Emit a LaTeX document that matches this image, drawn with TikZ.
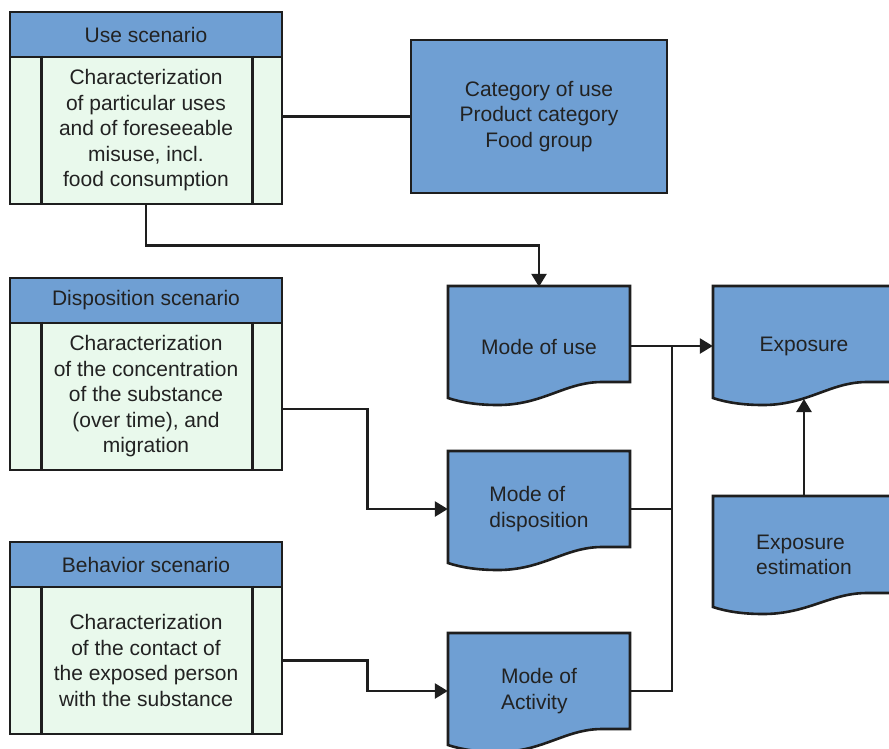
\documentclass[tikz,border=0pt]{standalone}
\usepackage{fontspec}
\setmainfont{Liberation Sans}
\usetikzlibrary{arrows.meta}
\definecolor{boxblue}{HTML}{6F9FD3}
\definecolor{boxgreen}{HTML}{E9F9EC}
\definecolor{ink}{HTML}{1E1E1E}
\definecolor{txt}{HTML}{222222}
\newcommand\fs{\fontsize{21}{25.5}\selectfont}
% document shape: x0, ytop, x1, yright-bottom, yleft-bottom
\newcommand\docshape[5]{\filldraw[docbox] (#1,#2) -- (#3,#2) -- (#3,#4) -- ({#3-28},#4) .. controls ({#3-65},#4) and ({#1+95},{#5+7}) .. ({#1+50},{#5+7}) .. controls ({#1+28},{#5+7}) and ({#1+12},{#5+4}) .. (#1,#5) -- cycle;}
\tikzset{
 docbox/.style={fill=boxblue, draw=ink, line width=2.6pt, line join=miter},
 hdr/.style={fill=boxblue, draw=ink, line width=2.6pt, minimum width=272pt, minimum height=45pt, inner sep=0pt, font=\fs, text=txt},
 bdy/.style={fill=boxgreen, draw=ink, line width=2.6pt, minimum width=272pt, minimum height=147pt, inner sep=0pt, align=center, font=\fs, text=txt},
 catbox/.style={fill=boxblue, draw=ink, line width=2.6pt, minimum width=256pt, minimum height=153pt, inner sep=0pt, align=center, font=\fs, text=txt},
 lbl/.style={inner sep=0pt, align=left, font=\fs, text=txt},
 inner/.style={draw=ink, line width=2.6pt},
 conn/.style={draw=ink, line width=2.6pt},
 arr/.style={conn, -{Triangle[length=13pt,width=15pt]}},
}
\begin{document}
\begin{tikzpicture}[x=1pt,y=-1pt]
\clip (0,0) rectangle (889,748);
\fill[white] (0,0) rectangle (889,748);

% left scenario boxes
\node[hdr] (usehead) at (146,34.5) {Use scenario};
\node[bdy] (usebody) at (146,130.5) {Characterization\\of particular uses\\and of foreseeable\\misuse, incl.\\food consumption};
\node[hdr] (disphead) at (146,300.5) {Disposition scenario};
\node[bdy] (dispbody) at (146,396.5) {Characterization\\of the concentration\\of the substance\\(over time), and\\migration};
\node[hdr] (behhead) at (146,564.5) {Behavior scenario};
\node[bdy] (behbody) at (146,660.5) {Characterization\\of the contact of\\the exposed person\\with the substance};
\foreach \b in {usebody,dispbody,behbody}{
  \draw[inner] ([xshift=33pt]\b.north west) -- ([xshift=33pt]\b.south west);
  \draw[inner] ([xshift=-31pt]\b.north east) -- ([xshift=-31pt]\b.south east);
}

% category box
\node[catbox] (cat) at (539,116.5) {Category of use\\Product category\\Food group};

% document shapes
\docshape{448}{286}{630}{382}{398}
\docshape{448}{451}{630}{547}{563}
\docshape{448}{633}{630}{729}{745}
\docshape{713}{286}{895}{382}{398}
\docshape{713}{496}{895}{593}{607}

\node[lbl, minimum width=182pt, minimum height=120pt] (muse) at (539,347) {Mode of use};
\node[lbl, minimum width=182pt, minimum height=116pt] (mdisp) at (539,509) {Mode of\\disposition};
\node[lbl, minimum width=182pt, minimum height=116pt] (mact) at (539,691) {Mode of\\Activity};
\node[lbl, minimum width=182pt, minimum height=120pt] (exp) at (804,346) {Exposure};
\node[lbl, minimum width=182pt, minimum height=118pt] (eest) at (804,555) {Exposure\\estimation};
\coordinate (expb) at (804,399);
\coordinate (jt) at (672,346);

% connectors
\draw[conn] (usebody.east |- cat.west) -- (cat.west);
\draw[arr] (usebody.south) -- ++(0,40) -| (muse.north);
\draw[arr] ([yshift=-12.5pt]dispbody.east) -- ++(84,0) |- (mdisp.west);
\draw[arr] (behbody.east) -- ++(84,0) |- (mact.west);
\draw[arr] (muse.east |- jt) -- (exp.west |- jt);
\draw[conn] (mdisp.east) -- (mdisp.east -| jt);
\draw[conn] (mact.east) -| (jt);
\draw[arr] (eest.north) -- (expb);
\end{tikzpicture}
\end{document}
